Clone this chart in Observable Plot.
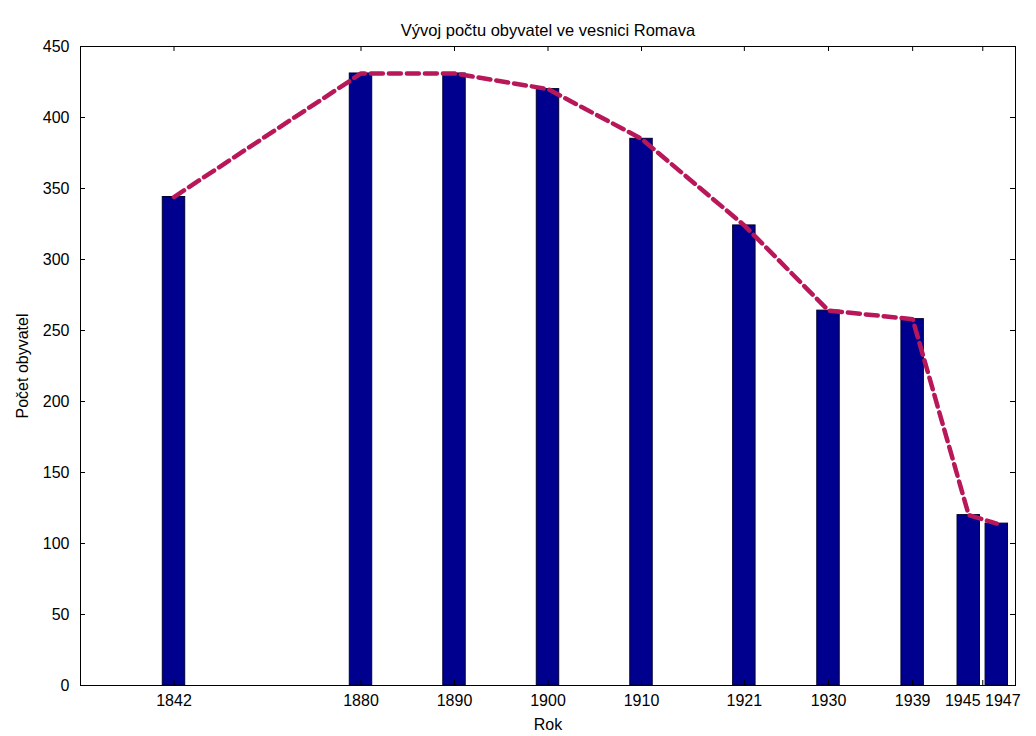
<!DOCTYPE html>
<html>
<head>
<meta charset="utf-8">
<script src="https://cdn.jsdelivr.net/npm/d3@7"></script>
<script src="https://cdn.jsdelivr.net/npm/@observablehq/plot@0.6"></script>
<style>
  body { margin: 0; background: #fff; }
  #chart svg { display: block; }
</style>
</head>
<body>
<div id="chart"></div>
<script>
// Positions at which the original chart placed each bar on its year axis
const plotYears = [1860, 1880, 1890, 1900, 1910, 1921, 1930, 1939, 1945, 1948];
// Population (Počet obyvatel)
const population = [344, 431, 431, 420, 385, 324, 264, 258, 120, 114];
// x tick positions and their labels
const xTickPositions = [1860, 1880, 1890, 1900, 1910, 1921, 1930, 1939, 1946.5];
const xTickLabels = ["1842", "1880", "1890", "1900", "1910", "1921", "1930", "1939", "1945 1947"];
// y ticks
const yTicks = [0, 50, 100, 150, 200, 250, 300, 350, 400, 450];

const title = "Vývoj počtu obyvatel ve vesnici Romava";
const xLabel = "Rok";
const yLabel = "Počet obyvatel";

const data = plotYears.map((x, i) => ({x, y: population[i]}));
const barWidth = 2.4;

const W = 1036, H = 736, ML = 80, MR = 21, MT = 46, MB = 51;
const frameW = W - ML - MR, frameH = H - MT - MB;
const tickLen = 5;

const chart = Plot.plot({
  width: W,
  height: H,
  marginLeft: ML,
  marginRight: MR,
  marginTop: MT,
  marginBottom: MB,
  style: {fontFamily: "'Liberation Sans', Arial, sans-serif", fontSize: "16px", color: "#000", background: "#fff"},
  x: {domain: [1850, 1950]},
  y: {domain: [0, 450]},
  marks: [
    Plot.rectY(data, {
      x1: d => d.x - barWidth / 2,
      x2: d => d.x + barWidth / 2,
      y: "y",
      fill: "#00008f",
      stroke: "#000030",
      strokeWidth: 1
    }),
    // inward ticks (bottom / top / left / right)
    Plot.tickX(xTickPositions, {x: d => d, stroke: "#000", insetTop: frameH - tickLen}),
    Plot.tickX(xTickPositions, {x: d => d, stroke: "#000", insetBottom: frameH - tickLen}),
    Plot.tickY(yTicks, {y: d => d, stroke: "#000", insetRight: frameW - tickLen}),
    Plot.tickY(yTicks, {y: d => d, stroke: "#000", insetLeft: frameW - tickLen}),
    Plot.line(data, {
      x: "x", y: "y", curve: "linear",
      stroke: "#b8185a", strokeWidth: 4.5, strokeDasharray: "12,6"
    }),
    Plot.frame({stroke: "#000", strokeWidth: 1}),
    Plot.axisX(xTickPositions, {
      anchor: "bottom", tickSize: 0, tickPadding: 9,
      tickFormat: d => xTickLabels[xTickPositions.indexOf(d)],
      label: xLabel, labelAnchor: "center", labelArrow: "none", labelOffset: 44
    }),
    Plot.axisY(yTicks, {
      anchor: "left", tickSize: 0, tickPadding: 11,
      label: yLabel, labelAnchor: "center", labelArrow: "none", labelOffset: 64
    }),
    Plot.text([title], {frameAnchor: "top", dy: -22, fontSize: 16.5})
  ]
});
document.getElementById("chart").appendChild(chart);
</script>
</body>
</html>
